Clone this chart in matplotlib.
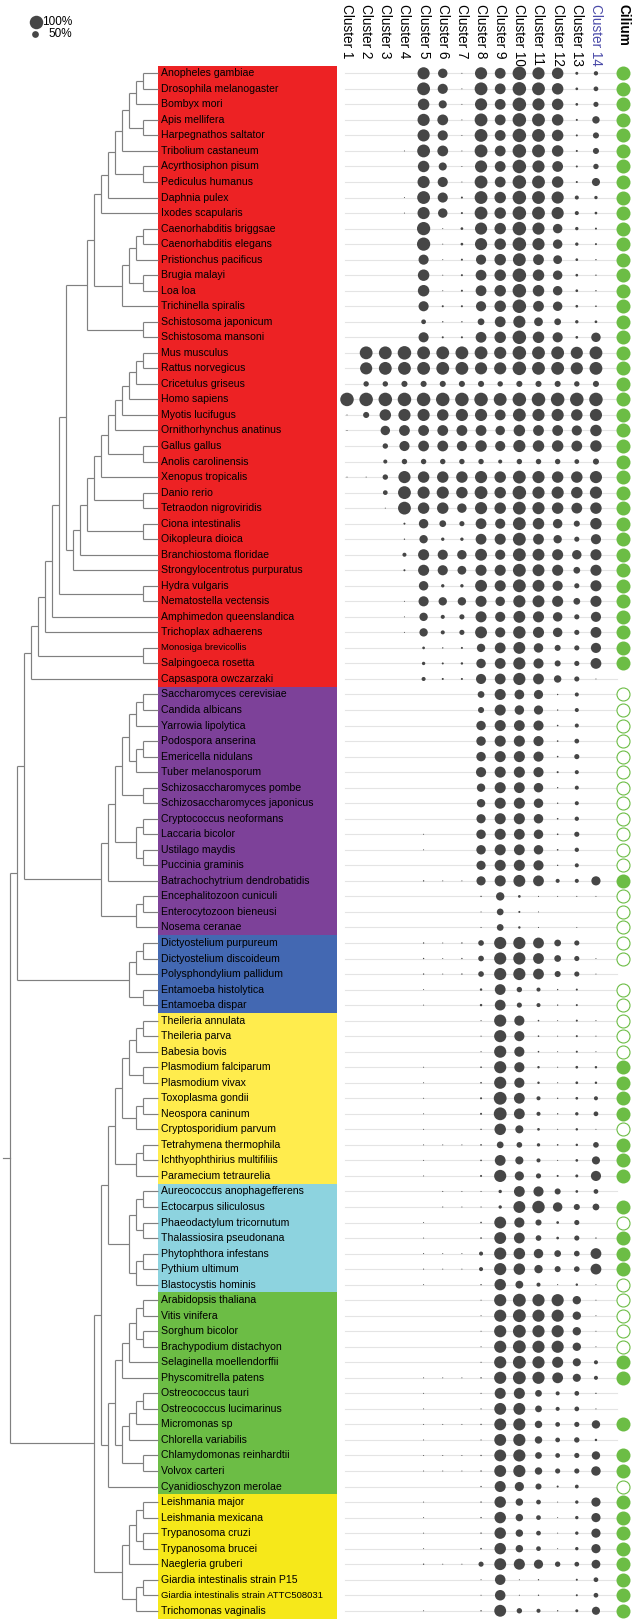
import matplotlib
matplotlib.use("Agg")
import matplotlib.pyplot as plt
from matplotlib.patches import Rectangle

plt.rcParams['font.family'] = ['Liberation Sans', 'DejaVu Sans']

clusters = ["Cluster %d" % i for i in range(1, 15)]

# ---- data: % presence per cluster (C1..C14), cilium F=filled O=open -=none
red_names = ["Anopheles gambiae", "Drosophila melanogaster", "Bombyx mori", "Apis mellifera",
             "Harpegnathos saltator", "Tribolium castaneum", "Acyrthosiphon pisum", "Pediculus humanus",
             "Daphnia pulex", "Ixodes scapularis", "Caenorhabditis briggsae", "Caenorhabditis elegans",
             "Pristionchus pacificus", "Brugia malayi", "Loa loa", "Trichinella spiralis",
             "Schistosoma japonicum", "Schistosoma mansoni", "Mus musculus", "Rattus norvegicus",
             "Cricetulus griseus", "Homo sapiens", "Myotis lucifugus", "Ornithorhynchus anatinus",
             "Gallus gallus", "Anolis carolinensis", "Xenopus tropicalis", "Danio rerio",
             "Tetraodon nigroviridis", "Ciona intestinalis", "Oikopleura dioica", "Branchiostoma floridae",
             "Strongylocentrotus purpuratus", "Hydra vulgaris", "Nematostella vectensis",
             "Amphimedon queenslandica", "Trichoplax adhaerens", "Monosiga brevicollis",
             "Salpingoeca rosetta", "Capsaspora owczarzaki"]
red_vals = [
    [0, 0, 0, 0, 90, 70, 5, 90, 80, 100, 90, 85, 22, 32],
    [0, 0, 0, 0, 95, 75, 5, 95, 80, 100, 95, 85, 20, 35],
    [0, 0, 0, 0, 85, 60, 5, 90, 80, 100, 90, 85, 20, 38],
    [0, 0, 0, 0, 90, 80, 3, 95, 80, 100, 95, 85, 15, 55],
    [0, 0, 0, 0, 90, 75, 3, 95, 80, 100, 95, 85, 15, 45],
    [0, 0, 0, 3, 95, 80, 5, 95, 80, 100, 95, 85, 15, 45],
    [0, 0, 0, 0, 85, 60, 3, 90, 80, 100, 90, 80, 15, 40],
    [0, 0, 0, 0, 90, 75, 5, 95, 80, 100, 95, 85, 15, 60],
    [0, 0, 0, 3, 95, 75, 15, 95, 85, 100, 95, 90, 30, 25],
    [0, 0, 0, 3, 90, 70, 15, 95, 85, 100, 95, 90, 30, 20],
    [0, 0, 0, 0, 98, 3, 20, 90, 85, 100, 90, 70, 25, 15],
    [0, 0, 0, 0, 98, 3, 20, 90, 85, 100, 90, 70, 25, 15],
    [0, 0, 0, 0, 75, 3, 15, 75, 85, 95, 80, 65, 20, 10],
    [0, 0, 0, 0, 85, 5, 15, 80, 85, 100, 85, 70, 20, 10],
    [0, 0, 0, 0, 85, 5, 15, 80, 85, 100, 85, 70, 20, 10],
    [0, 0, 0, 0, 75, 15, 15, 75, 85, 100, 80, 70, 20, 12],
    [0, 0, 0, 0, 35, 10, 10, 50, 80, 90, 65, 50, 25, 20],
    [0, 0, 0, 0, 75, 15, 15, 80, 85, 100, 85, 75, 20, 70],
    [0, 95, 95, 100, 95, 95, 95, 95, 90, 100, 95, 95, 90, 95],
    [0, 90, 95, 95, 95, 95, 95, 90, 90, 100, 95, 95, 90, 95],
    [0, 40, 40, 45, 45, 45, 45, 45, 40, 45, 45, 45, 40, 45],
    [100, 100, 100, 100, 100, 100, 100, 100, 95, 100, 100, 100, 100, 100],
    [5, 45, 85, 90, 90, 85, 90, 90, 80, 95, 90, 90, 85, 90],
    [3, 0, 70, 80, 80, 80, 80, 80, 70, 85, 80, 80, 75, 85],
    [0, 0, 40, 75, 80, 80, 75, 85, 75, 90, 85, 85, 80, 85],
    [0, 0, 30, 40, 40, 40, 40, 40, 30, 40, 40, 40, 35, 45],
    [3, 3, 40, 90, 85, 85, 85, 90, 85, 95, 90, 85, 85, 90],
    [0, 0, 35, 95, 90, 90, 85, 95, 85, 100, 90, 90, 85, 90],
    [0, 0, 5, 95, 85, 85, 70, 90, 85, 95, 90, 85, 80, 85],
    [0, 0, 0, 15, 70, 50, 38, 80, 75, 95, 85, 70, 45, 85],
    [0, 0, 0, 10, 62, 25, 25, 80, 82, 95, 80, 62, 38, 75],
    [0, 0, 0, 30, 82, 75, 70, 88, 75, 95, 88, 82, 70, 82],
    [0, 0, 0, 15, 82, 75, 65, 82, 82, 95, 88, 82, 50, 82],
    [0, 0, 0, 0, 70, 25, 25, 88, 82, 95, 88, 75, 38, 82],
    [0, 0, 0, 5, 75, 62, 62, 82, 70, 90, 88, 82, 50, 82],
    [0, 0, 0, 3, 62, 30, 38, 82, 75, 88, 82, 70, 38, 75],
    [0, 0, 0, 3, 62, 30, 38, 88, 75, 92, 82, 70, 38, 80],
    [0, 0, 0, 0, 20, 10, 15, 62, 80, 88, 70, 45, 38, 75],
    [0, 0, 0, 0, 25, 15, 18, 70, 80, 90, 75, 45, 38, 80],
    [0, 0, 0, 0, 30, 15, 15, 75, 80, 90, 80, 55, 38, 5],
]
red_cilium = "F" * 39 + "-"

purple_names = ["Saccharomyces cerevisiae", "Candida albicans", "Yarrowia lipolytica", "Podospora anserina",
                "Emericella nidulans", "Tuber melanosporum", "Schizosaccharomyces pombe",
                "Schizosaccharomyces japonicus", "Cryptococcus neoformans", "Laccaria bicolor",
                "Ustilago maydis", "Puccinia graminis", "Batrachochytrium dendrobatidis",
                "Encephalitozoon cuniculi", "Enterocytozoon bieneusi", "Nosema ceranae"]
purple_vals = [
    [0, 0, 0, 0, 0, 0, 0, 50, 82, 72, 68, 10, 30, 0],
    [0, 0, 0, 0, 0, 0, 0, 45, 82, 70, 68, 10, 30, 0],
    [0, 0, 0, 0, 0, 0, 0, 70, 82, 80, 75, 12, 30, 0],
    [0, 0, 0, 0, 0, 0, 0, 70, 82, 82, 75, 12, 35, 0],
    [0, 0, 0, 0, 0, 0, 0, 70, 82, 82, 75, 12, 38, 0],
    [0, 0, 0, 0, 0, 0, 0, 75, 82, 82, 75, 15, 30, 0],
    [0, 0, 0, 0, 0, 0, 0, 62, 82, 80, 70, 10, 30, 0],
    [0, 0, 0, 0, 0, 0, 0, 62, 82, 82, 70, 10, 30, 0],
    [0, 0, 0, 0, 0, 0, 0, 68, 82, 82, 70, 12, 32, 0],
    [0, 0, 0, 0, 3, 0, 0, 70, 82, 80, 70, 12, 38, 0],
    [0, 0, 0, 0, 3, 0, 0, 70, 82, 80, 70, 12, 32, 0],
    [0, 0, 0, 0, 0, 0, 0, 68, 82, 82, 75, 10, 30, 0],
    [0, 0, 0, 0, 10, 5, 5, 68, 82, 88, 80, 30, 30, 68],
    [0, 0, 0, 0, 0, 0, 0, 10, 62, 20, 8, 5, 8, 5],
    [0, 0, 0, 0, 0, 0, 0, 5, 50, 15, 5, 0, 0, 0],
    [0, 0, 0, 0, 0, 0, 0, 8, 50, 18, 8, 0, 5, 0],
]
purple_cilium = "O" * 12 + "F" + "OOO"

blue_names = ["Dictyostelium purpureum", "Dictyostelium discoideum", "Polysphondylium pallidum",
              "Entamoeba histolytica", "Entamoeba dispar"]
blue_vals = [
    [0, 0, 0, 0, 10, 5, 10, 42, 90, 90, 80, 50, 38, 0],
    [0, 0, 0, 0, 10, 5, 10, 42, 90, 90, 80, 50, 38, 5],
    [0, 0, 0, 0, 10, 5, 10, 42, 90, 90, 80, 45, 38, 5],
    [0, 0, 0, 0, 5, 0, 0, 18, 80, 40, 30, 10, 15, 0],
    [0, 0, 0, 0, 5, 0, 0, 18, 80, 38, 30, 10, 15, 0],
]
blue_cilium = "OO-OO"

yellow_names = ["Theileria annulata", "Theileria parva", "Babesia bovis", "Plasmodium falciparum",
                "Plasmodium vivax", "Toxoplasma gondii", "Neospora caninum", "Cryptosporidium parvum",
                "Tetrahymena thermophila", "Ichthyophthirius multifiliis", "Paramecium tetraurelia"]
yellow_vals = [
    [0, 0, 0, 0, 0, 0, 0, 8, 90, 75, 12, 5, 15, 8],
    [0, 0, 0, 0, 0, 0, 0, 8, 90, 75, 12, 5, 15, 8],
    [0, 0, 0, 0, 0, 0, 0, 8, 90, 75, 12, 5, 15, 5],
    [0, 0, 0, 0, 5, 0, 0, 12, 90, 75, 18, 8, 20, 18],
    [0, 0, 0, 0, 5, 0, 0, 12, 90, 75, 18, 8, 20, 18],
    [0, 0, 0, 0, 5, 0, 0, 15, 95, 80, 30, 10, 20, 30],
    [0, 0, 0, 0, 5, 0, 0, 15, 95, 80, 30, 10, 25, 35],
    [0, 0, 0, 0, 5, 0, 0, 10, 85, 60, 20, 8, 18, 5],
    [0, 0, 0, 0, 5, 5, 5, 12, 50, 42, 25, 12, 18, 42],
    [0, 0, 0, 0, 5, 0, 0, 12, 80, 60, 30, 8, 20, 60],
    [0, 0, 0, 0, 5, 0, 0, 15, 90, 68, 38, 15, 22, 75],
]
yellow_cilium = "OOOFFFFOFFF"

cyan_names = ["Aureococcus anophagefferens", "Ectocarpus siliculosus", "Phaeodactylum tricornutum",
              "Thalassiosira pseudonana", "Phytophthora infestans", "Pythium ultimum", "Blastocystis hominis"]
cyan_vals = [
    [0, 0, 0, 0, 0, 8, 5, 8, 25, 80, 75, 45, 20, 35],
    [0, 0, 0, 0, 0, 8, 5, 8, 25, 88, 92, 70, 45, 50],
    [0, 0, 0, 0, 5, 0, 0, 12, 88, 75, 45, 20, 38, 0],
    [0, 0, 0, 0, 5, 0, 0, 12, 88, 80, 42, 20, 38, 10],
    [0, 0, 0, 0, 8, 5, 5, 30, 90, 85, 70, 50, 42, 80],
    [0, 0, 0, 0, 8, 5, 5, 30, 90, 85, 62, 45, 42, 80],
    [0, 0, 0, 0, 5, 0, 0, 10, 85, 58, 30, 8, 18, 5],
]
cyan_cilium = "-FOFFFO"

green_names = ["Arabidopsis thaliana", "Vitis vinifera", "Sorghum bicolor", "Brachypodium distachyon",
               "Selaginella moellendorffii", "Physcomitrella patens", "Ostreococcus tauri",
               "Ostreococcus lucimarinus", "Micromonas sp", "Chlorella variabilis",
               "Chlamydomonas reinhardtii", "Volvox carteri", "Cyanidioschyzon merolae"]
green_vals = [
    [0, 0, 0, 0, 0, 0, 0, 5, 90, 95, 90, 90, 62, 5],
    [0, 0, 0, 0, 0, 0, 0, 5, 90, 95, 90, 90, 62, 5],
    [0, 0, 0, 0, 0, 0, 0, 5, 90, 95, 90, 90, 62, 5],
    [0, 0, 0, 0, 0, 0, 0, 5, 90, 95, 90, 90, 62, 5],
    [0, 0, 0, 0, 0, 0, 0, 8, 90, 95, 90, 82, 60, 30],
    [0, 0, 0, 0, 5, 5, 5, 10, 90, 95, 90, 80, 60, 30],
    [0, 0, 0, 0, 5, 0, 0, 8, 82, 82, 50, 30, 35, 10],
    [0, 0, 0, 0, 5, 0, 0, 8, 88, 88, 50, 30, 35, 8],
    [0, 0, 0, 0, 5, 5, 5, 10, 88, 90, 55, 35, 38, 62],
    [0, 0, 0, 0, 5, 0, 0, 8, 88, 90, 55, 35, 40, 18],
    [0, 0, 0, 0, 5, 5, 5, 10, 88, 90, 50, 35, 38, 62],
    [0, 0, 0, 0, 5, 5, 5, 10, 88, 90, 55, 38, 38, 70],
    [0, 0, 0, 0, 0, 0, 0, 10, 82, 68, 45, 15, 28, 0],
]
green_cilium = "OOOOFF--F-FFO"

yellow2_names = ["Leishmania major", "Leishmania mexicana", "Trypanosoma cruzi", "Trypanosoma brucei",
                 "Naegleria gruberi", "Giardia intestinalis strain P15",
                 "Giardia intestinalis strain ATTC508031", "Trichomonas vaginalis"]
yellow2_vals = [
    [0, 0, 0, 0, 5, 0, 0, 10, 85, 55, 35, 5, 25, 68],
    [0, 0, 0, 0, 5, 0, 0, 10, 85, 55, 35, 5, 25, 68],
    [0, 0, 0, 0, 5, 0, 0, 10, 85, 55, 35, 5, 25, 68],
    [0, 0, 0, 0, 5, 0, 0, 12, 85, 55, 35, 5, 25, 68],
    [0, 0, 0, 0, 10, 5, 5, 38, 88, 82, 68, 40, 35, 65],
    [0, 0, 0, 0, 0, 0, 0, 5, 78, 5, 10, 0, 15, 35],
    [0, 0, 0, 0, 0, 0, 0, 5, 78, 5, 10, 0, 15, 35],
    [0, 0, 0, 0, 5, 0, 0, 10, 88, 40, 30, 10, 22, 60],
]
yellow2_cilium = "F" * 8

clades = [
    ("#ED2224", red_names, red_vals, red_cilium),
    ("#7D4199", purple_names, purple_vals, purple_cilium),
    ("#4368B2", blue_names, blue_vals, blue_cilium),
    ("#FFEC4D", yellow_names, yellow_vals, yellow_cilium),
    ("#8DD3DF", cyan_names, cyan_vals, cyan_cilium),
    ("#6CBD45", green_names, green_vals, green_cilium),
    ("#F6E81A", yellow2_names, yellow2_vals, yellow2_cilium),
]


# ---- tree topology (leaf = row number), cladogram drawn by node height
def ladder(base, *tips):
    for t in tips:
        base = (base, t)
    return base

arthropoda = ladder(((1, 2), 3), (4, 5), 6, (7, 8), 9, 10)
nematoda = ladder(((11, 12), 13), (14, 15), 16)
protostomia = ladder(arthropoda, nematoda, (17, 18))
mammalia = ladder((19, 20), 21, 22, 23, 24)
deuterostomia = ladder(mammalia, (25, 26), 27, (28, 29), (30, 31), 32, 33)
holozoa = ladder((protostomia, deuterostomia), (34, 35), 36, 37, (38, 39), 40)
ascomycota = ladder((ladder((41, 42), 43), ladder((44, 45), 46)), (47, 48))
fungi = ladder((ascomycota, ((49, 50), (51, 52))), 53, ladder((54, 55), 56))
amoebozoa = (ladder((57, 58), 59), (60, 61))
unikonts = ladder(holozoa, fungi, amoebozoa)
alveolata = ladder((ladder((62, 63), 64), (65, 66)), ladder((67, 68), 69), ladder((70, 71), 72))
stramenopiles = (((73, 74), (75, 76)), ladder((77, 78), 79))
plantae = ladder((ladder(((80, 81), (82, 83)), 84, 85), ladder((86, 87), 88, 89, (90, 91))), 92)
excavata = (ladder(((93, 94), (95, 96)), 97), ladder((98, 99), 100))
bikonts = ladder((alveolata, stramenopiles), plantae, excavata)
tree = (unikonts, bikonts)

# ---- layout (pixels)
W, H = 633, 1622
row0, dy = 73.3, 15.53
col0, dx = 347, 19.15
cil_x = 623
box_x0, box_x1 = 158, 337
leaf_x, node_step = 158, 7.0
max_d = 13.5  # px diameter for 100%
tree_col = "#808080"
dot_col = "#464646"
cil_col = "#6CBD45"

fig = plt.figure(figsize=(W / 100, H / 100), dpi=100)
ax = fig.add_axes([0, 0, 1, 1])
ax.set_xlim(0, W)
ax.set_ylim(H, 0)
ax.axis("off")


def row_y(i):
    return row0 + i * dy


def px2s(d):
    return (d * 0.72) ** 2


def draw(node):
    if isinstance(node, int):
        return leaf_x, row_y(node - 1), 0
    kids = [draw(c) for c in node]
    h = max(k[2] for k in kids) + 1
    x = 150 - node_step * h
    ys = [k[1] for k in kids]
    ax.plot([x, x], [min(ys), max(ys)], color=tree_col, lw=0.85, solid_capstyle="butt")
    for kx, ky, _ in kids:
        ax.plot([x, kx], [ky, ky], color=tree_col, lw=0.85, solid_capstyle="butt")
    return x, (ys[0] + ys[-1]) / 2, h

rx, ry, _ = draw(tree)
ax.plot([rx - node_step, rx], [ry, ry], color=tree_col, lw=0.85)

i = 0
for color, names, vals, cil in clades:
    top = row_y(i) - dy / 2
    ax.add_patch(Rectangle((box_x0, top), box_x1 - box_x0, dy * len(names), color=color, lw=0, zorder=1))
    for name, row, c in zip(names, vals, cil):
        y = row_y(i)
        small = name in ("Monosiga brevicollis", "Giardia intestinalis strain ATTC508031")
        ax.text(161, y, name, va="center", ha="left", fontsize=6.8 if small else 7.6, zorder=3)
        ax.plot([col0 - 2, cil_x - 6], [y, y], color="#e4e4e4", lw=0.8, zorder=1)
        xs = [col0 + j * dx for j in range(len(clusters)) if row[j] > 0]
        ss = [px2s(max(row[j] / 100 * max_d, 1.0)) for j in range(len(clusters)) if row[j] > 0]
        ax.scatter(xs, [y] * len(xs), s=ss, color=dot_col, lw=0, zorder=4)
        if c == "F":
            ax.scatter([cil_x], [y], s=px2s(14), color=cil_col, lw=0, zorder=4)
        elif c == "O":
            ax.scatter([cil_x], [y], s=px2s(13), facecolor="white", edgecolor=cil_col, lw=0.8, zorder=4)
        i += 1

for j, name in enumerate(clusters):
    ax.text(col0 + j * dx, 4, name, rotation=270, ha="center", va="top", fontsize=9.8,
            color="#4a4aa8" if j == 13 else "black")
ax.text(cil_x, 4, "Cilium", rotation=270, ha="center", va="top", fontsize=9.8, fontweight="bold")

# size legend
ax.scatter([36], [22], s=px2s(max_d), color=dot_col, lw=0)
ax.scatter([35], [34], s=px2s(max_d * 0.5), color=dot_col, lw=0)
ax.text(42, 22, "100%", va="center", ha="left", fontsize=8.5)
ax.text(48, 34, "50%", va="center", ha="left", fontsize=8.5)

fig.savefig("out.png", dpi=100)
